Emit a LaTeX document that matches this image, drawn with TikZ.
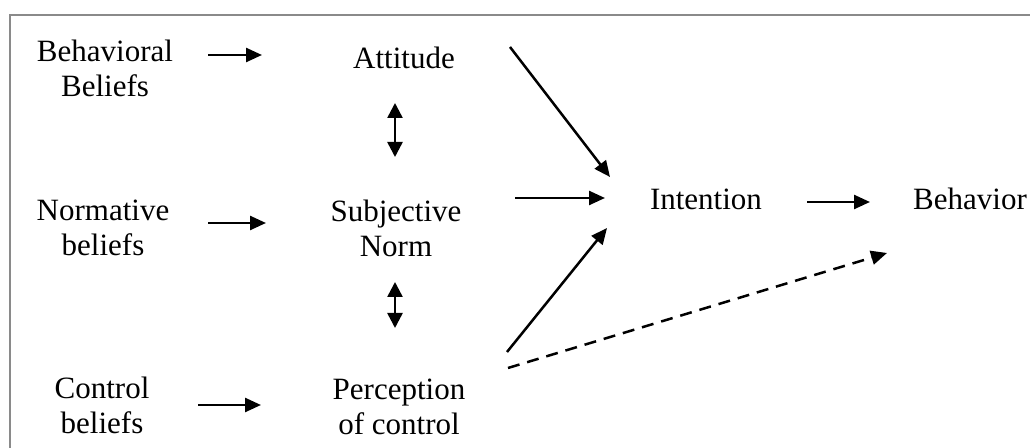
\documentclass[tikz,border=0pt]{standalone}
\usepackage{fontspec}
\setmainfont{Liberation Serif}
\usepackage{xcolor}
\usetikzlibrary{arrows.meta,positioning,calc}
\definecolor{framegray}{HTML}{8A8A8A}

\begin{document}
\begin{tikzpicture}[
			x=0.5pt,
			y=-0.5pt,
			line cap=butt,
			line join=miter,
			box/.style={align=center,inner sep=0pt,font=\fontsize{15.5}{17.5}\selectfont},
			arr/.style={line width=1.25pt,-{Triangle[length=8pt,width=7pt]}},
			darr/.style={line width=1.25pt,{Triangle[length=7.5pt,width=7.5pt]}-{Triangle[length=7.5pt,width=7.5pt]}},
			dasharr/.style={arr,dash pattern=on 6pt off 4pt}
			]
			
			\useasboundingbox (0,0) rectangle (1030,448);
			
			% outer frame (cut at right and bottom)
			\draw[framegray, line width=1pt] (1030,15) -- (10,15) -- (10,448);
			
			%------------------------------
			% Beliefs, left column
			%------------------------------
			\node[box] (bb) at (105,68) {Behavioral\\Beliefs};
			\node[box] (nb) at (103,228) {Normative\\beliefs};
			\node[box] (cb) at (102,405) {Control\\beliefs};
			
			%------------------------------
			% Middle column
			%------------------------------
			\node[box] (att) at (404,58) {Attitude};
			\node[box] (sn) at (396,228) {Subjective\\Norm};
			\node[box] (pc) at (399,407) {Perception\\of control};
			
			%------------------------------
			% Right
			%------------------------------
			\node[box] (int) at (706,199) {Intention};
			\node[box] (beh) at (970,199) {Behavior};
			
			% beliefs to middle
			\draw[arr] ($(bb)+(103,-13)$) -- ($(att)+(-142,-3)$);
			\draw[arr] ($(nb)+(105,-5)$) -- ($(sn)+(-130,-5)$);
			\draw[arr] ($(cb)+(96,0)$) -- ($(pc)+(-138,-2)$);
			
			% two-way links
			\draw[darr] ($(att)+(-9,45)$) -- ($(sn)+(-1,-71)$);
			\draw[darr] ($(sn)+(-1,54)$) -- ($(pc)+(-4,-79)$);
			
			% into intention
			\draw[arr] ($(att)+(106,-11)$) -- ($(int)+(-96,-22)$);
			\draw[arr] ($(sn)+(119,-30)$) -- ($(int)+(-101,-1)$);
			\draw[arr] ($(pc)+(108,-55)$) -- ($(int)+(-99,29)$);
			
			% to behavior
			\draw[arr] ($(int)+(101,3)$) -- ($(beh)+(-100,3)$);
			\draw[dasharr] ($(pc)+(109,-39)$) -- ($(beh)+(-83,54)$);
		\end{tikzpicture}
\end{document}
